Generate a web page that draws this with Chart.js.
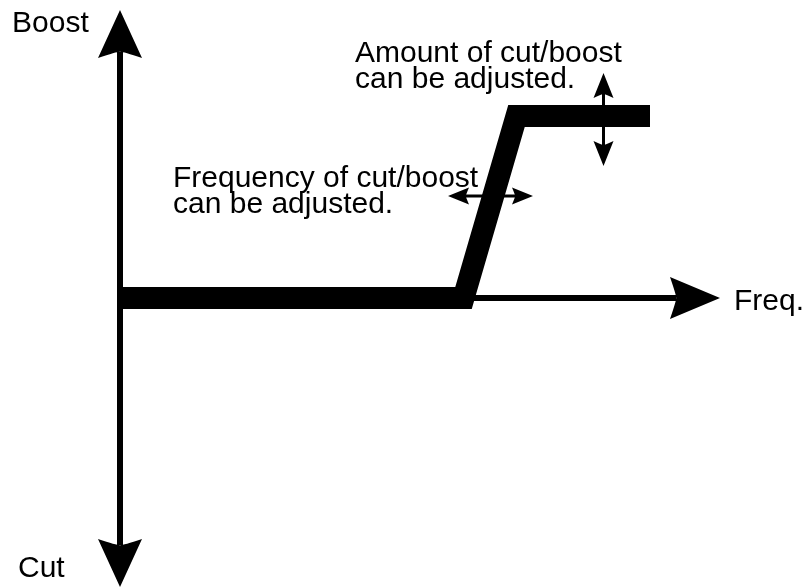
<!DOCTYPE html>
<html>
<head>
<meta charset="utf-8">
<script src="https://cdn.jsdelivr.net/npm/chart.js@4.4.1/dist/chart.umd.min.js"></script>
<style>
  html, body { margin: 0; padding: 0; background: #fff; }
  #wrap { width: 805px; height: 588px; position: relative; }
</style>
</head>
<body>
<div id="wrap"><canvas id="eq"></canvas></div>
<script>
// Shelf EQ response (frequency units / gain units, origin where the axes cross)
const curveFreq = [0, 34.35, 39.65, 53.0];
const curveGain = [0, 0, 18.2, 18.2];

// Axes: [start, end] of each arrow, tips included
const freqAxisFreq = [0, 60];
const freqAxisGain = [0, 0];
const gainAxisFreq = [0, 0];
const gainAxisGain = [-28.9, 28.8];

// Double arrows that mark what can be adjusted
const amountArrowFreq = [48.35, 48.35];
const amountArrowGain = [13.2, 22.5];
const freqArrowFreq = [32.8, 41.3];
const freqArrowGain = [10.2, 10.2];

// Text labels (left edge, baseline)
const labelText = ['Boost', 'Cut', 'Freq.', 'Amount of cut/boost', 'can be adjusted.', 'Frequency of cut/boost', 'can be adjusted.'];
const labelFreq = [-10.8, -10.2, 61.4, 23.5, 23.5, 5.3, 5.3];
const labelGain = [26.6, -27.9, -1.2, 23.6, 21.0, 11.1, 8.5];

const toPts = (xs, ys) => xs.map((x, i) => ({ x: x, y: ys[i] }));

// Arrow style: head length, half width, notch depth, shaft width (pixels)
const arrows = [
  { xs: gainAxisFreq, ys: gainAxisGain, len: 48, half: 22, notch: 6, width: 6, heads: [0, 1] },
  { xs: freqAxisFreq, ys: freqAxisGain, len: 50, half: 21, notch: 6, width: 6, heads: [1] },
  { xs: amountArrowFreq, ys: amountArrowGain, len: 25, half: 10, notch: 4, width: 3, heads: [0, 1] },
  { xs: freqArrowFreq, ys: freqArrowGain, len: 21, half: 8.5, notch: 3, width: 3, heads: [0, 1] }
];

const arrowPlugin = {
  id: 'arrows',
  afterDatasetsDraw(chart) {
    const ctx = chart.ctx;
    const sx = chart.scales.x, sy = chart.scales.y;
    ctx.save();
    ctx.fillStyle = '#000';
    ctx.strokeStyle = '#000';
    arrows.forEach(a => {
      const p = [0, 1].map(i => ({ x: sx.getPixelForValue(a.xs[i]), y: sy.getPixelForValue(a.ys[i]) }));
      const dx = p[1].x - p[0].x, dy = p[1].y - p[0].y;
      const d = Math.hypot(dx, dy);
      const ux = dx / d, uy = dy / d;
      // shaft, shortened where heads sit
      const s0 = a.heads.includes(0) ? a.len - a.notch : 0;
      const s1 = a.heads.includes(1) ? a.len - a.notch : 0;
      ctx.lineWidth = a.width;
      ctx.lineCap = 'butt';
      ctx.beginPath();
      ctx.moveTo(p[0].x + ux * s0, p[0].y + uy * s0);
      ctx.lineTo(p[1].x - ux * s1, p[1].y - uy * s1);
      ctx.stroke();
      a.heads.forEach(h => {
        const tip = p[h];
        const dirx = h === 1 ? ux : -ux, diry = h === 1 ? uy : -uy;
        const nx = -diry, ny = dirx;
        const bx = tip.x - dirx * a.len, by = tip.y - diry * a.len;
        ctx.beginPath();
        ctx.moveTo(tip.x, tip.y);
        ctx.lineTo(bx + nx * a.half, by + ny * a.half);
        ctx.quadraticCurveTo(tip.x - dirx * (a.len - a.notch * 1.2), tip.y - diry * (a.len - a.notch * 1.2),
          tip.x - dirx * (a.len - a.notch), tip.y - diry * (a.len - a.notch));
        ctx.quadraticCurveTo(tip.x - dirx * (a.len - a.notch * 1.2), tip.y - diry * (a.len - a.notch * 1.2),
          bx - nx * a.half, by - ny * a.half);
        ctx.closePath();
        ctx.fill();
      });
    });
    // labels
    ctx.font = '30px "Liberation Sans", Arial, Helvetica, sans-serif';
    ctx.textAlign = 'left';
    ctx.textBaseline = 'alphabetic';
    labelText.forEach((t, i) => {
      ctx.fillText(t, sx.getPixelForValue(labelFreq[i]), sy.getPixelForValue(labelGain[i]));
    });
    ctx.restore();
  }
};

new Chart(document.getElementById('eq'), {
  type: 'scatter',
  data: {
    datasets: [{
      label: 'Response',
      data: toPts(curveFreq, curveGain),
      showLine: true,
      borderColor: '#000',
      borderWidth: 22,
      borderJoinStyle: 'miter',
      borderCapStyle: 'butt',
      pointRadius: 0,
      fill: false,
      tension: 0
    }]
  },
  options: {
    responsive: true,
    maintainAspectRatio: false,
    animation: false,
    layout: { padding: 0 },
    plugins: {
      legend: { display: false },
      tooltip: { enabled: false }
    },
    scales: {
      x: { type: 'linear', min: -12, max: 68.5, display: false },
      y: { type: 'linear', min: -29, max: 29.8, display: false }
    }
  },
  plugins: [arrowPlugin]
});
</script>
</body>
</html>
